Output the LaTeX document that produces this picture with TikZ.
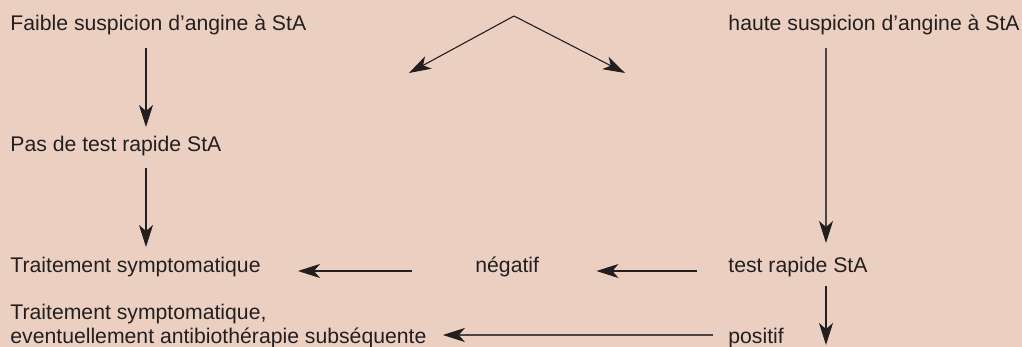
\documentclass[tikz,border=0pt]{standalone}
\usepackage{fontspec}
\setmainfont{Liberation Sans}
\usepackage{xcolor}
\usetikzlibrary{arrows.meta}
\definecolor{fond}{HTML}{EBD0C2}
\definecolor{encre}{HTML}{231F20}
\definecolor{trait}{HTML}{4A4446}

\begin{document}
\begin{tikzpicture}[x=0.5pt,y=-0.5pt,
        txt/.style={inner sep=0pt,text=encre,font=\fontsize{10.6}{12}\selectfont},
        fleche/.style={line width=0.55pt,draw=encre,-{Stealth[length=11pt,width=7pt,inset=3pt,color=encre]}}]
        \fill[fond] (0,0) rectangle (1022,347);
        \useasboundingbox (0,0) rectangle (1022,347);
        \coordinate (colL) at (146,0);
        \coordinate (colR) at (826,0);
        \coordinate (sommet) at (514,16);
        \coordinate (gauche) at (409,73);
        \coordinate (droite) at (625,73);
        \coordinate (bas) at (826,345);

        \node[txt,anchor=base west] (faible) at (10,31) {Faible suspicion d’angine à StA};
        \node[txt,anchor=base east] (haute) at (1020,31) {haute suspicion d’angine à StA};
        \node[txt,anchor=base west] (pas) at (10,152) {Pas de test rapide StA};
        \node[txt,anchor=base west] (ts) at (10,272) {Traitement symptomatique};
        \node[txt,anchor=base west] (neg) at (475,272) {négatif};
        \node[txt,anchor=base west] (test) at (728,272) {test rapide StA};
        \node[txt,anchor=base west,align=left] (tsab) at (10,343) {Traitement symptomatique,\\eventuellement antibiothérapie subséquente};
        \node[txt,anchor=base west] (positif) at (728,343) {positif};

        \draw[fleche] (sommet)--(gauche);
        \draw[fleche] (sommet)--(droite);
        \draw[fleche,shorten <=8.5pt,shorten >=12.5pt] (faible.base -| colL)--(pas.base -| colL);
        \draw[fleche,shorten <=8pt,shorten >=12.5pt] (pas.base -| colL)--(ts.base -| colL);
        \draw[fleche,draw=trait,shorten <=8.5pt,shorten >=14.5pt] (haute.base -| colR)--(test.base -| colR);
        \draw[fleche,shorten <=7pt] (test.base -| colR)--(bas);
        \draw[fleche,shorten <=15.5pt,shorten >=28.5pt] ([yshift=0.5pt]test.base west)--([yshift=0.5pt]neg.base east);
        \draw[fleche,shorten <=31.5pt,shorten >=18.5pt] ([yshift=0.5pt]neg.base west)--([yshift=0.5pt]ts.base east);
        \draw[fleche,draw=trait,line width=0.9pt,shorten <=7.5pt,shorten >=8pt] ([yshift=4pt]positif.base west)--([yshift=4pt]tsab.east |- positif.base);
\end{tikzpicture}
\end{document}
